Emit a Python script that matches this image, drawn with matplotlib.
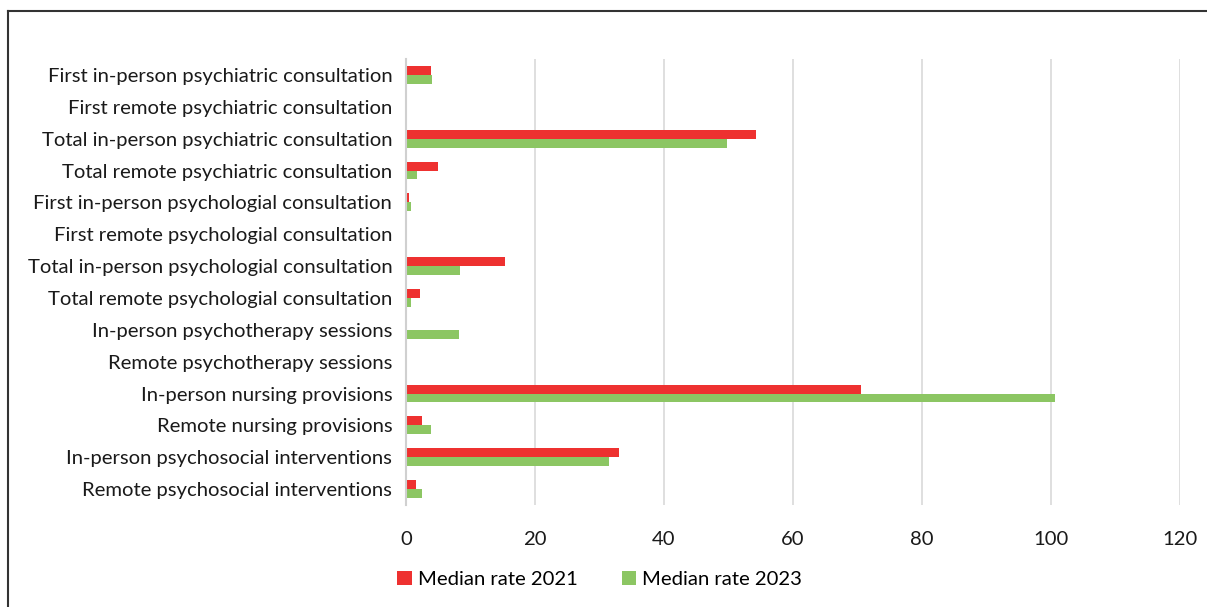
import matplotlib.pyplot as plt
import numpy as np
from matplotlib.lines import Line2D

categories = [
    "First in-person psychiatric consultation",
    "First remote psychiatric consultation",
    "Total in-person psychiatric consultation",
    "Total remote psychiatric consultation",
    "First in-person psychologial consultation",
    "First remote psychologial consultation",
    "Total in-person psychologial consultation",
    "Total remote psychologial consultation",
    "In-person psychotherapy sessions",
    "Remote psychotherapy sessions",
    "In-person nursing provisions",
    "Remote nursing provisions",
    "In-person psychosocial interventions",
    "Remote psychosocial interventions",
]
rate_2021 = [3.9, 0, 54.2, 5.0, 0.5, 0, 15.3, 2.2, 0, 0, 70.5, 2.4, 33.0, 1.6]
rate_2023 = [4.0, 0, 49.8, 1.7, 0.7, 0, 8.4, 0.7, 8.2, 0.2, 100.7, 3.9, 31.4, 2.5]
xticks = [0, 20, 40, 60, 80, 100, 120]

red = "#EE3130"
green = "#8CC663"

plt.rcParams['font.family'] = ['Lato', 'DejaVu Sans']
fs = 14.6

fig = plt.figure(figsize=(12.07, 6.07), dpi=100)
ax = fig.add_axes([0.3364, 0.168, 0.6412, 0.7348])

y = np.arange(len(categories))
h = 0.28
ax.barh(y - h / 2, rate_2021, height=h, color=red, label="Median rate 2021", zorder=3)
ax.barh(y + h / 2, rate_2023, height=h, color=green, label="Median rate 2023", zorder=3)

ax.set_ylim(len(categories) - 0.5, -0.5)
ax.set_xlim(0, 120)
ax.set_xticks(xticks)
ax.set_yticks(y)
ax.set_yticklabels(categories, fontsize=fs, color="#1a1a1a")
ax.tick_params(axis="x", labelsize=fs, colors="#1a1a1a", length=0, pad=19)
ax.tick_params(axis="y", length=0, pad=10)
ax.grid(axis="x", color="#D9D9D9", linewidth=1.2, zorder=0)
for s in ["top", "right", "bottom"]:
    ax.spines[s].set_visible(False)
ax.spines["left"].set_color("#D0D0D0")
ax.spines["left"].set_linewidth(1.5)
ax.spines["left"].set_zorder(4)

fig.legend(loc="center", bbox_to_anchor=(0.497, 0.045), ncol=2, frameon=False,
           fontsize=fs, handlelength=0.7, handleheight=0.7, handletextpad=0.3,
           columnspacing=2.2)

# outer frame, left and top edges
x0, y0 = 8 / 1207, 1 - 11 / 607
fig.add_artist(Line2D([x0, x0], [0, y0], transform=fig.transFigure, color="#333333", lw=1.5))
fig.add_artist(Line2D([x0, 1], [y0, y0], transform=fig.transFigure, color="#333333", lw=1.5))

fig.savefig("out.png", dpi=100)
